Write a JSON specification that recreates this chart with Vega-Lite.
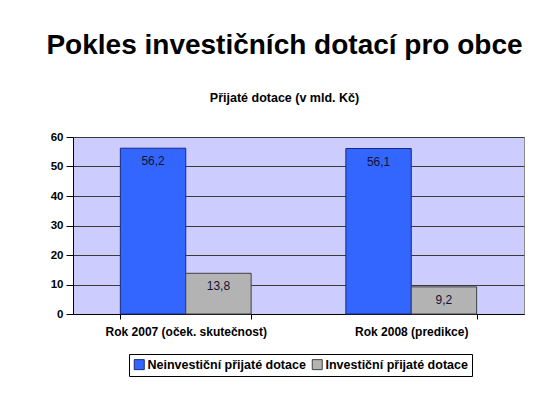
{
  "$schema": "https://vega.github.io/schema/vega-lite/v6.json",
  "width": 451,
  "height": 177,
  "autosize": {"type": "none"},
  "padding": {"left": 73, "top": 137, "right": 21, "bottom": 94},
  "background": "white",
  "config": {
    "locale": {"number": {"decimal": ",", "thousands": " ", "grouping": [3], "currency": ["", " Kč"]}},
    "font": "Liberation Sans",
    "view": {"fill": "#ccccff", "stroke": "#8c8c8c", "strokeWidth": 1}
  },
  "title": {
    "text": "Pokles investičních dotací pro obce",
    "subtitle": "Přijaté dotace (v mld. Kč)",
    "anchor": "middle",
    "font": "Liberation Sans",
    "fontSize": 28,
    "fontWeight": "bold",
    "color": "black",
    "subtitleFont": "Liberation Sans",
    "subtitleFontSize": 12.5,
    "subtitleFontWeight": "bold",
    "subtitleColor": "black",
    "subtitlePadding": 32,
    "offset": 27,
    "dx": -14
  },
  "data": {
    "values": [
      {"rok": "Rok 2007 (oček. skutečnost)", "typ": "Neinvestiční přijaté dotace", "hodnota": 56.2},
      {"rok": "Rok 2007 (oček. skutečnost)", "typ": "Investiční přijaté dotace", "hodnota": 13.8},
      {"rok": "Rok 2008 (predikce)", "typ": "Neinvestiční přijaté dotace", "hodnota": 56.1},
      {"rok": "Rok 2008 (predikce)", "typ": "Investiční přijaté dotace", "hodnota": 9.2}
    ]
  },
  "encoding": {
    "x": {
      "field": "rok",
      "type": "nominal",
      "sort": null,
      "scale": {"paddingInner": 0.42, "paddingOuter": 0.21},
      "axis": {
        "title": null,
        "labelAngle": 0,
        "tickBand": "extent",
        "domainColor": "black",
        "tickColor": "black",
        "tickSize": 5,
        "labelFont": "Liberation Sans",
        "labelFontSize": 12,
        "labelFontWeight": "bold",
        "labelColor": "black",
        "labelPadding": 7,
        "labelLimit": 300,
        "grid": false
      }
    },
    "xOffset": {
      "field": "typ",
      "sort": ["Neinvestiční přijaté dotace", "Investiční přijaté dotace"],
      "scale": {"paddingInner": 0, "paddingOuter": 0}
    },
    "y": {
      "field": "hodnota",
      "type": "quantitative",
      "scale": {"domain": [0, 60]},
      "axis": {
        "title": null,
        "values": [0, 10, 20, 30, 40, 50, 60],
        "domainColor": "black",
        "tickColor": "black",
        "tickSize": 7,
        "labelFont": "Liberation Sans",
        "labelFontSize": 11.5,
        "labelFontWeight": "bold",
        "labelColor": "black",
        "labelPadding": 3,
        "gridColor": "#3a3a3a",
        "gridWidth": 1
      }
    }
  },
  "layer": [
    {
      "mark": {"type": "bar", "strokeWidth": 1},
      "encoding": {
        "color": {
          "field": "typ",
          "type": "nominal",
          "scale": {
            "domain": ["Neinvestiční přijaté dotace", "Investiční přijaté dotace"],
            "range": ["#3366ff", "#b3b3b3"]
          },
          "legend": {
            "title": null,
            "orient": "none",
            "legendX": 56,
            "legendY": 217,
            "direction": "horizontal",
            "strokeColor": "black",
            "fillColor": "white",
            "padding": 4,
            "symbolType": "square",
            "symbolSize": 100,
            "symbolStrokeColor": "#333333",
            "symbolStrokeWidth": 1,
            "labelFont": "Liberation Sans",
            "labelFontSize": 12.5,
            "labelFontWeight": "bold",
            "labelColor": "black",
            "labelOffset": 2,
            "labelLimit": 300,
            "columnPadding": 4
          }
        },
        "stroke": {
          "field": "typ",
          "type": "nominal",
          "scale": {
            "domain": ["Neinvestiční přijaté dotace", "Investiční přijaté dotace"],
            "range": ["#1a2a7a", "#404040"]
          },
          "legend": null
        }
      }
    },
    {
      "mark": {"type": "text", "baseline": "middle", "dy": 13, "fontSize": 12, "font": "Liberation Sans", "color": "#111133"},
      "encoding": {
        "text": {"field": "hodnota", "type": "quantitative", "format": ".1f"}
      }
    }
  ]
}
